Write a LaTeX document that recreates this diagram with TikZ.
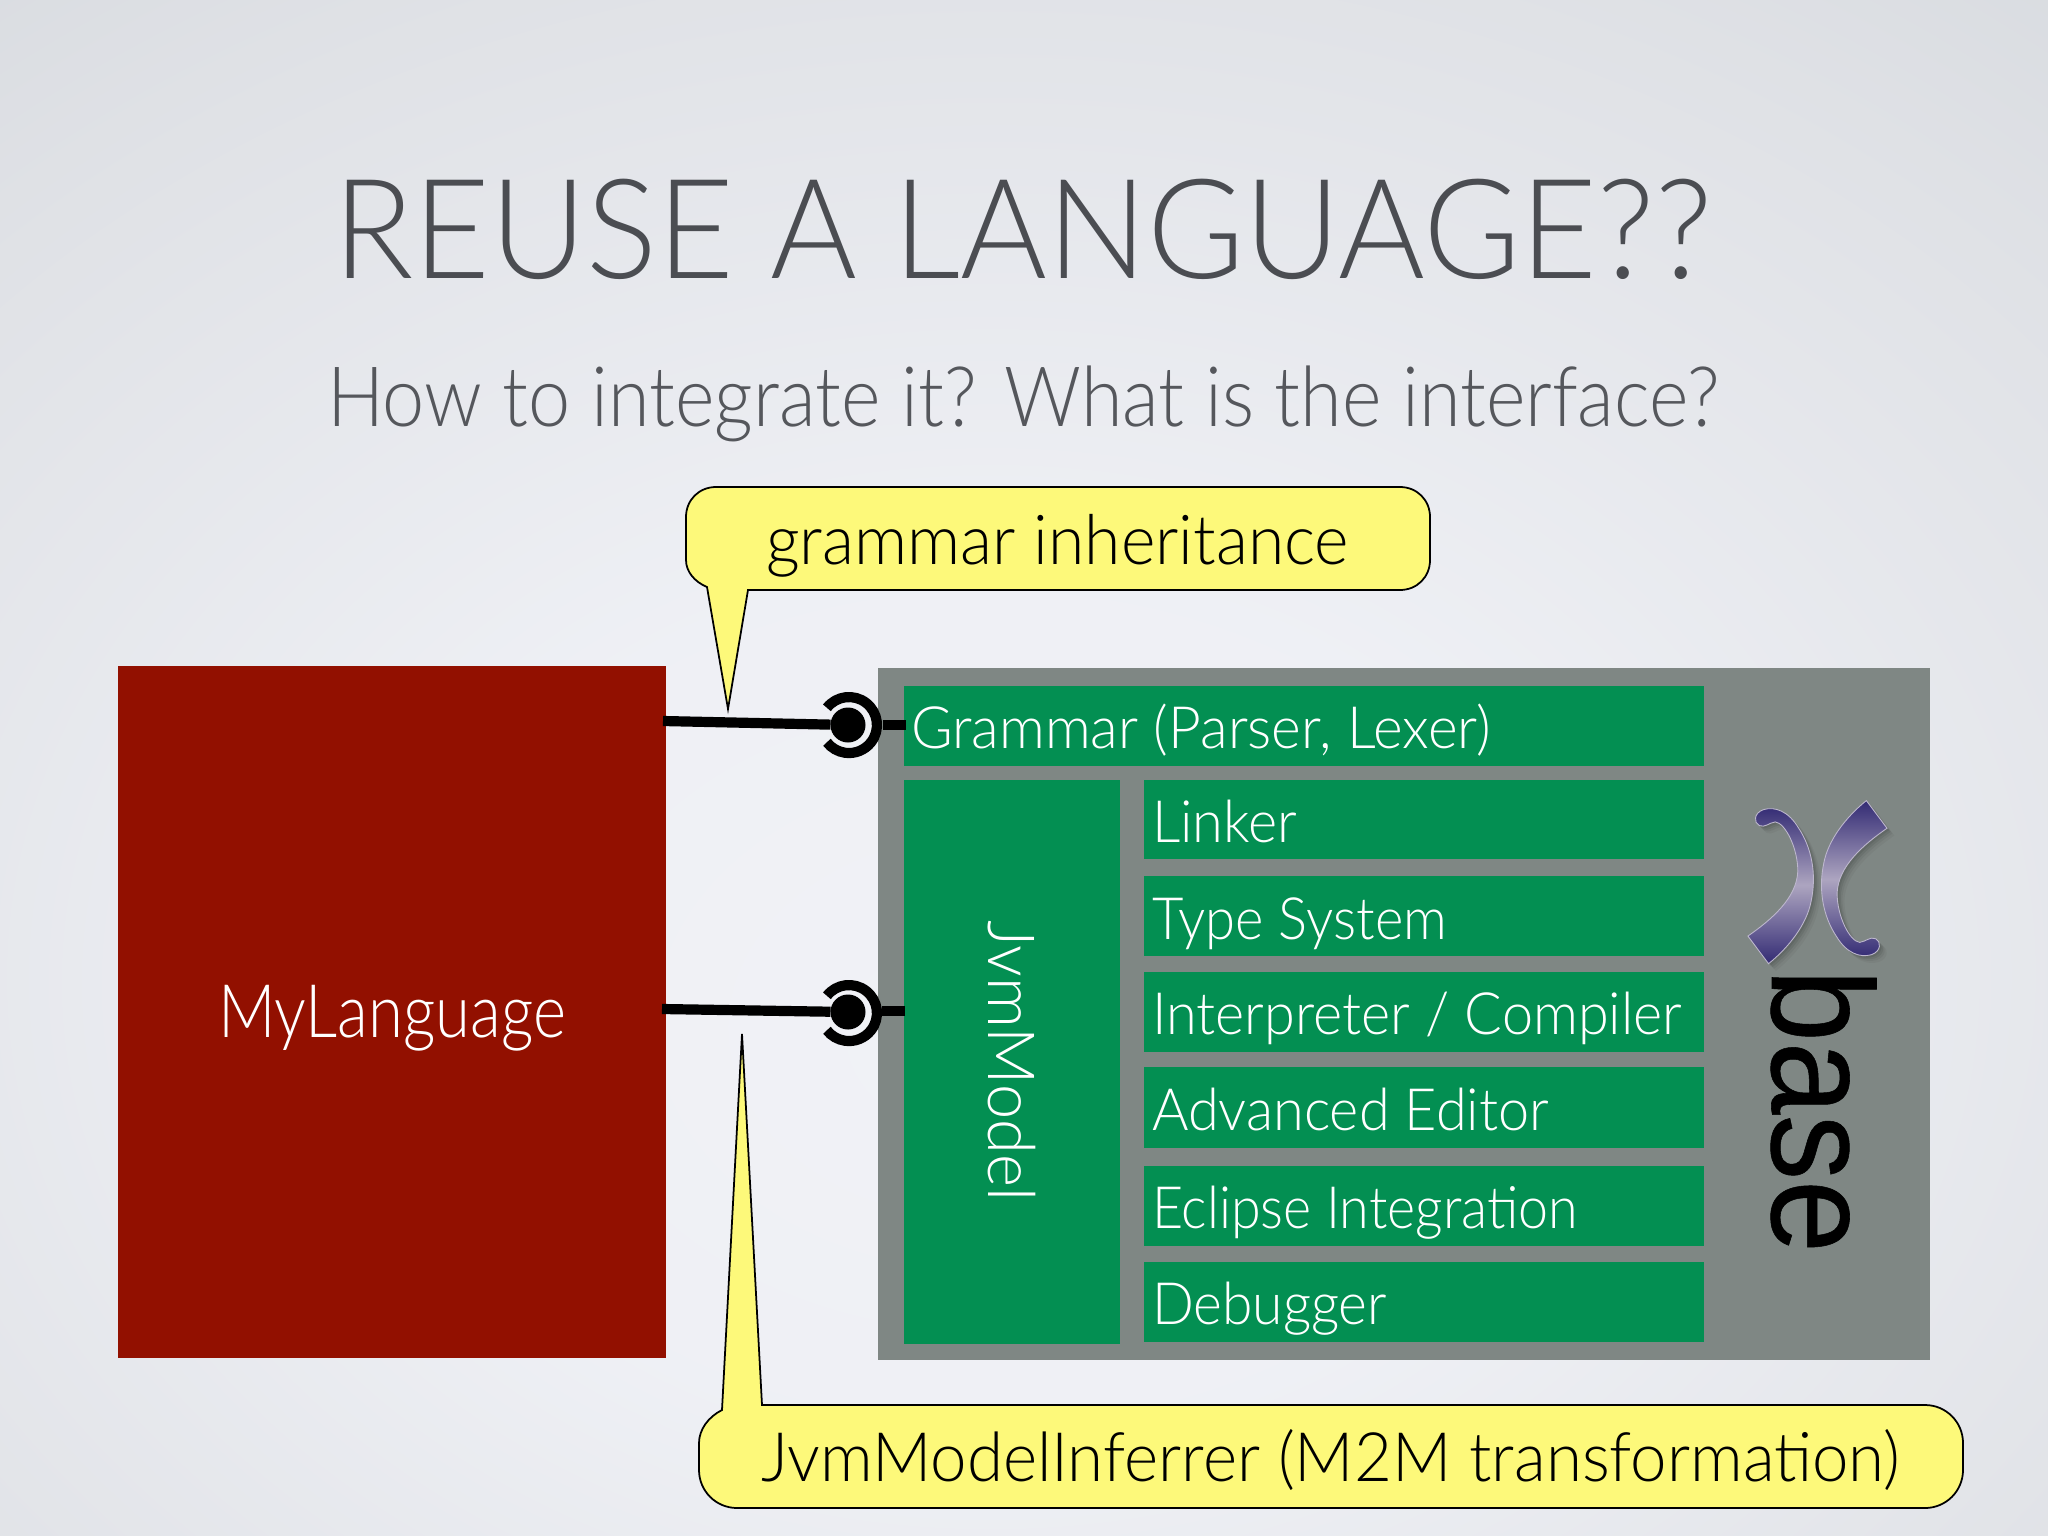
\documentclass[tikz,border=0pt]{standalone}
\usepackage{fontspec}
\usepackage{graphicx}
\setmainfont{Lato Light}
\usetikzlibrary{calc}
\definecolor{redbox}{HTML}{921000}
\definecolor{greybox}{HTML}{7F8784}
\definecolor{greenbox}{HTML}{038F52}
\definecolor{yellowc}{HTML}{FDF97A}
\definecolor{titlec}{HTML}{4B4D52}
\definecolor{subc}{HTML}{55575C}
\definecolor{xdark}{HTML}{332B74}
\definecolor{xlight}{HTML}{ADA5C0}
\pgfdeclareradialshading{bgshade}{\pgfpoint{-1bp}{-9bp}}{%
 rgb(0bp)=(0.945,0.949,0.965);rgb(14bp)=(0.935,0.941,0.96);rgb(34bp)=(0.875,0.883,0.9);rgb(46bp)=(0.83,0.845,0.865);rgb(100bp)=(0.83,0.845,0.865)}
\newcommand{\ft}[3]{\resizebox{\dimexpr 0.01cm*#1\relax}{\height}{\fontsize{#2}{#2}\selectfont #3}}
\tikzset{
 box/.style={inner sep=0pt,outer sep=0pt,anchor=north west,rectangle},
 greenb/.style={box,fill=greenbox},
 lbl/.style={inner sep=0pt,outer sep=0pt,anchor=base west},
 wlbl/.style={lbl,text=white},
 wire/.style={line width=2.9pt,black},
 ball/.style={circle,fill=black,inner sep=0pt,outer sep=0pt,minimum size=0.35cm},
 socket/.style={line width=2.9pt,black},
 callout/.style={draw=black,line width=0.5pt,fill=yellowc,line join=miter},
 xshape/.style={draw=xlight!80!white,line width=0.25pt}
}
\newcommand{\bx}[6]{\node[#6,minimum width={(#4-#2)*0.01cm},minimum height={(#5-#3)*0.01cm}] (#1) at (#2,#3) {};}
\begin{document}
\begin{tikzpicture}[x=0.01cm,y=-0.01cm]
\useasboundingbox (0,0) rectangle (2048,1536);
\shade[shading=bgshade] (0,0) rectangle (2048,1536);
% title
\node[lbl,text=titlec] (title) at (333,278) {\ft{1379}{39.5pt}{REUSE A LANGUAGE??}};
\node[lbl,text=subc] (subtitle) at (327,426) {\ft{1392}{23.7pt}{How to integrate it? What is the interface?}};
% boxes
\bx{red}{118}{666}{666}{1358}{box,fill=redbox}
\bx{grey}{878}{668}{1930}{1360}{box,fill=greybox}
\bx{grammar}{904}{686}{1704}{766}{greenb}
\bx{jvm}{904}{780}{1120}{1344}{greenb}
\bx{linker}{1144}{780}{1704}{859}{greenb}
\bx{typesys}{1144}{876}{1704}{956}{greenb}
\bx{interp}{1144}{972}{1704}{1052}{greenb}
\bx{editor}{1144}{1067}{1704}{1148}{greenb}
\bx{eclipse}{1144}{1166}{1704}{1246}{greenb}
\bx{debugger}{1144}{1262}{1704}{1342}{greenb}
% labels
\node[wlbl] (mylang) at (218,1037) {\ft{348}{21pt}{MyLanguage}};
\node[wlbl] (tgrammar) at (911,748) {\ft{580}{16.6pt}{Grammar (Parser, Lexer)}};
\node[wlbl] (tlinker) at (1152,842) {\ft{145}{16.6pt}{Linker}};
\node[wlbl] (ttype) at (1152,939) {\ft{295}{16.6pt}{Type System}};
\node[wlbl] (tinterp) at (1152,1034) {\ft{530}{16.6pt}{Interpreter / Compiler}};
\node[wlbl] (tedit) at (1152,1130) {\ft{397}{16.6pt}{Advanced Editor}};
\node[wlbl] (tecl) at (1152,1228) {\ft{426}{16.6pt}{Eclipse Integration}};
\node[wlbl] (tdeb) at (1152,1324) {\ft{235}{16.6pt}{Debugger}};
\node[wlbl,rotate=-90] (tjvm) at (988,920) {\ft{281}{18.5pt}{JvmModel}};
% lollipops
\node[ball] (ball1) at (848,725) {};
\node[ball] (ball2) at (848,1012) {};
\coordinate (w1) at (663,721);
\coordinate (w2) at (662,1009);
\coordinate (s1) at (883,725);
\coordinate (s2) at (882,1011);
\coordinate (e1) at (906,725);
\coordinate (e2) at (905,1011);
\draw[wire] (w1) -- (ball1);
\draw[wire] (w2) -- (ball2);
\draw[wire] (s1) -- (e1);
\draw[wire] (s2) -- (e2);
\draw[socket] (826.9,707.8) arc[start angle=-142,end angle=142,radius=28];
\draw[socket] (826.9,995.8) arc[start angle=-142,end angle=142,radius=28];
% callouts
\draw[callout] (716,487) -- (1400,487) .. controls (1417,487) and (1430,500) .. (1430,517)
 -- (1430,560) .. controls (1430,577) and (1417,590) .. (1400,590) -- (748,590) -- (728,709) -- (707,587)
 .. controls (695,582) and (686,572) .. (686,560) -- (686,517) .. controls (686,500) and (699,487) .. (716,487) -- cycle;
\node[lbl] (tc1) at (766,564) {\ft{583}{19.6pt}{grammar inheritance}};
\draw[callout] (762,1405) -- (1925,1405) .. controls (1946,1405) and (1963,1422) .. (1963,1443)
 -- (1963,1470) .. controls (1963,1491) and (1946,1508) .. (1925,1508) -- (737,1508)
 .. controls (716,1508) and (699,1491) .. (699,1470) -- (699,1443) .. controls (699,1430) and (708,1417) .. (722,1410)
 -- (742,1034) -- cycle;
\node[lbl] (tc2) at (761,1481) {\ft{1139}{19.4pt}{JvmModelInferrer (M2M transformation)}};
% xbase logo
\begin{scope}[shift={(1680,760)},x=0.00333cm,y=-0.00333cm]
 \def\xpath{(560,122) -- (622,205) .. controls (550,255) and (475,320) .. (472,400)
   .. controls (472,470) and (510,545) .. (540,548) .. controls (560,545) and (570,530) .. (588,537)
   .. controls (605,545) and (605,575) .. (575,585) .. controls (540,595) and (500,580) .. (470,530)
   .. controls (430,470) and (415,390) .. (432,310) .. controls (445,240) and (500,170) .. (560,122) -- cycle}
 \foreach \d/\o in {22/0.04,16/0.05,11/0.07,6/0.08}{
  \fill[black,opacity=\o,shift={(\d,\d)}] \xpath;
  \fill[black,opacity=\o,shift={(\d,\d)},rotate around={180:(413,367)}] \xpath;
 }
 \shade[xshape,top color=xdark,bottom color=xdark,middle color=xlight] \xpath;
 \shade[xshape,top color=xdark,bottom color=xdark,middle color=xlight,rotate around={180:(413,367)}] \xpath;
\end{scope}
\node[lbl,rotate=-90,text=black] (tbase) at (1772,969) {\ft{284}{41pt}{\fontspec{Liberation Sans}[FakeBold=0.4]base}};
\end{tikzpicture}
\end{document}
